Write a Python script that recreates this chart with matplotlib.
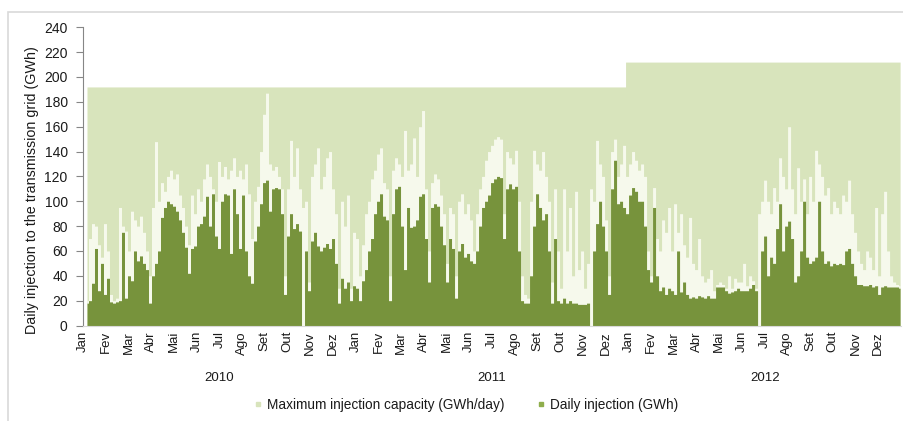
import numpy as np
import matplotlib
matplotlib.use("Agg")
import matplotlib.pyplot as plt
from matplotlib.lines import Line2D
from matplotlib.patches import Rectangle

plt.rcParams['font.family'] = ['Liberation Sans', 'DejaVu Sans']

# ---------------- data (sampled roughly every 4 days, Jan 2010 - Dec 2012) ----------------
daily_injection = [
    18, 20, 34, 62, 28, 50, 25, 38, 19, 18, 19, 20, 75, 22, 40, 36, 60, 52, 56, 50,
    45, 18, 40, 50, 60, 87, 95, 100, 98, 96, 92, 85, 75, 63, 42, 62, 64, 80, 82, 88,
    104, 80, 106, 72, 62, 100, 106, 105, 58, 110, 90, 62, 105, 60,
    40, 34, 68, 80, 98, 115, 117, 92, 110, 111, 110, 90, 25, 72, 90, 78, 82, 76, 0, 60,
    28, 68, 75, 64, 60, 63, 66, 62, 70, 50, 18, 38, 30, 35, 20, 32, 30, 20, 36, 45,
    60, 70, 90, 100, 106, 88, 85, 20, 90, 110, 112, 80, 45, 95,
    79, 80, 85, 104, 106, 70, 35, 95, 98, 96, 80, 65, 35, 70, 62, 22, 60, 66, 55, 58,
    52, 50, 60, 80, 95, 100, 105, 115, 118, 120, 119, 70, 110, 114, 110, 112, 60, 20, 18, 18,
    40, 80, 106, 95, 85, 90, 60, 18, 70, 20, 18, 22, 18, 20, 18,
    18, 17, 17, 17, 18, 0, 60, 82, 100, 80, 60, 25, 110, 133, 98, 100, 95, 90, 105, 111,
    108, 100, 100, 80, 45, 35, 95, 40, 28, 31, 25, 30, 28, 25, 60, 27, 35, 25, 22, 23,
    22, 24, 23, 22, 24, 22, 22, 31, 31, 31, 28, 26, 27, 28, 30,
    28, 28, 28, 30, 33, 28, 0, 60, 72, 40, 55, 50, 78, 98, 60, 80, 84, 70, 35, 40,
    60, 100, 55, 50, 52, 55, 100, 60, 50, 52, 48, 50, 49, 50, 49, 60, 62, 50, 40, 33,
    33, 32, 32, 33, 31, 32, 25, 31, 32, 31, 31, 31, 31, 30,
]

daily_peak = [
    20, 70, 82, 80, 65, 55, 82, 60, 25, 20, 22, 95, 80, 76, 60, 92, 85, 80, 88, 75,
    60, 40, 95, 148, 100, 115, 108, 120, 125, 118, 122, 105, 95, 80, 65, 105, 90, 110, 100, 118,
    130, 120, 110, 100, 132, 120, 128, 118, 125, 135, 120, 125, 118, 130,
    106, 70, 100, 112, 140, 170, 187, 130, 125, 128, 120, 110, 40, 110, 149, 120, 143, 110, 95, 100,
    35, 120, 130, 143, 110, 120, 135, 140, 110, 90, 30, 100, 80, 105, 30, 75, 70, 40, 65, 90,
    100, 118, 125, 138, 143, 115, 110, 40, 125, 135, 130, 120, 157, 125,
    130, 151, 120, 160, 173, 110, 60, 115, 122, 118, 105, 90, 50, 95, 90, 40, 100, 106, 90, 98,
    85, 60, 90, 110, 120, 133, 140, 145, 150, 152, 150, 90, 140, 135, 130, 141, 100, 40, 25, 22,
    100, 141, 130, 125, 140, 120, 100, 35, 110, 60, 30, 110, 60, 95, 40,
    108, 45, 60, 30, 50, 110, 100, 149, 130, 120, 85, 40, 140, 150, 120, 130, 145, 120, 130, 140,
    133, 125, 130, 120, 60, 40, 111, 70, 60, 85, 75, 95, 60, 98, 75, 90, 65, 55, 87, 50,
    45, 70, 40, 35, 38, 45, 28, 33, 35, 33, 30, 40, 30, 38, 35,
    35, 50, 32, 40, 36, 30, 90, 100, 117, 100, 90, 111, 100, 135, 120, 110, 160, 110, 90, 127,
    100, 118, 90, 120, 100, 141, 130, 120, 105, 111, 90, 100, 95, 90, 105, 100, 117, 90, 75, 60,
    50, 45, 60, 55, 45, 95, 40, 90, 108, 60, 40, 35, 33, 32,
]

# maximum injection capacity: level and sample index where it starts
capacity_levels = [192, 212]
capacity_start = [0, 180]

months = ['Jan', 'Fev', 'Mar', 'Abr', 'Mai', 'Jun', 'Jul', 'Ago', 'Set', 'Out', 'Nov', 'Dez']
years = ['2010', '2011', '2012']

legend_labels = ['Maximum injection capacity (GWh/day)', 'Daily injection (GWh)']
ylabel = 'Daily injection to the transmission grid (GWh)'

# ---------------- colours ----------------
c_cap = '#d8e4bc'
c_peak = '#f6f9ec'
c_inj = '#77933c'
c_axis = '#868686'
c_text = '#1a1a1a'

# ---------------- figure ----------------
W, H = 904, 421
fig = plt.figure(figsize=(W / 100, H / 100), dpi=100)
fig.patch.set_facecolor('white')

# chart frame
fig.add_artist(Rectangle((8 / W, -0.1), 1.2, (H - 12) / H + 0.1, transform=fig.transFigure,
                         fill=False, edgecolor='#d9d9d9', linewidth=1.2))

ax_left, ax_right = 83, 901
ax_top, ax_bot = 27.3, 325.5
ax = fig.add_axes([ax_left / W, (H - ax_bot) / H, (ax_right - ax_left) / W, (ax_bot - ax_top) / H])
ax.set_facecolor('none')

inj = np.array(daily_injection, dtype=float)
peak = np.array(daily_peak, dtype=float)
x = np.arange(len(inj))

cap = np.zeros(len(x))
for lvl, st in zip(capacity_levels, capacity_start):
    cap[st:] = lvl

ax.fill_between(x, 0, cap, step='mid', color=c_cap, linewidth=0)
ax.fill_between(x, 0, peak, step='mid', color=c_peak, linewidth=0)
ax.fill_between(x, 0, inj, step='mid', color=c_inj, linewidth=0)

xlo, xhi = -1.33, 271.3
ax.set_xlim(xlo, xhi)
ax.set_ylim(0, 240)
ax.set_yticks(np.arange(0, 241, 20))

for s in ['top', 'right']:
    ax.spines[s].set_visible(False)
ax.spines['left'].set_color(c_axis)
ax.spines['bottom'].set_color('#d9d9d9')
ax.tick_params(axis='y', direction='out', length=5, color=c_axis, labelsize=10,
               labelcolor=c_text, pad=6)

step = (xhi - xlo) / 36
month_pos = xlo + step * np.arange(36)
ax.set_xticks(month_pos)
ax.set_xticklabels(months * 3, rotation=90, fontsize=9.5, color=c_text)
ax.tick_params(axis='x', length=0, pad=4)

for g, yr in enumerate(years):
    ax.text(xlo + step * (12 * g + 6), -0.176, yr, transform=ax.get_xaxis_transform(),
            ha='center', va='center', fontsize=9.5, color=c_text)

fig.text(32 / W, 1 - 190 / H, ylabel, rotation=90, ha='center', va='center',
         fontsize=10.3, color=c_text)

handles = [Line2D([], [], linestyle='none', marker='s', markersize=3.5, color=c_cap),
           Line2D([], [], linestyle='none', marker='s', markersize=3.5, color='#8fae4c')]
fig.legend(handles, legend_labels, loc='center', bbox_to_anchor=(466 / W, 1 - 405 / H),
           ncol=2, frameon=False, fontsize=9.8, handlelength=0.6, handletextpad=0.35,
           columnspacing=2.4, labelcolor=c_text)

fig.savefig('out.png', dpi=100)
